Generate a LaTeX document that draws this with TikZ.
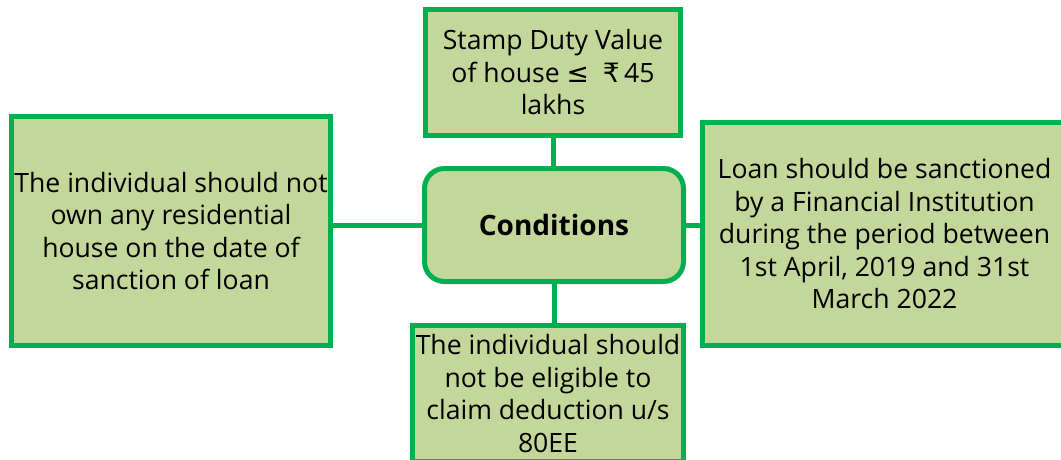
\documentclass[tikz,border=0pt]{standalone}
\usepackage{fontspec}
\setmainfont{Open Sans}
\newfontfamily\symfont{DejaVu Sans}
\definecolor{boxfill}{HTML}{C4D79B}
\definecolor{boxline}{HTML}{00B050}
\begin{document}
\begin{tikzpicture}[x=1pt,y=-1pt,
  cond/.style={draw=boxline,fill=boxfill,line width=5pt,rectangle,inner sep=0pt,
    align=center,font=\fontsize{26.6}{32.5}\selectfont,text=black},
  link/.style={draw=boxline,line width=5pt}]
\useasboundingbox (0,0) rectangle (1061,460);
\clip (0,0) rectangle (1061,460);
\node[cond,minimum width=255pt,minimum height=126pt] (top) at (553,72.5)
  {Stamp Duty Value\\of house {\symfont≤}\ \ {\symfont₹}\,45\\lakhs};
\node[cond,rounded corners=20pt,minimum width=259pt,minimum height=113pt,
  font=\fontsize{28}{32.5}\selectfont\bfseries] (center) at (554,225) {Conditions};
\node[cond,minimum width=319pt,minimum height=229pt] (left) at (171,231)
  {The individual should not\\own any residential\\house on the date of\\sanction of loan};
\node[cond,minimum width=364pt,minimum height=223pt] (right) at (884.5,234)
  {Loan should be sanctioned\\by a Financial Institution\\during the period between\\1st April, 2019 and 31st\\March 2022};
\node[cond,minimum width=271pt,minimum height=136pt] (bottom) at (548,393.5)
  {The individual should\\not be eligible to\\claim deduction u/s\\80EE};
\draw[link] (top.south) -- (top.south |- center.north);
\draw[link] (center.south) -- (center.south |- bottom.north);
\draw[link] (center.west) -- (center.west -| left.east);
\draw[link] (center.east) -- (center.east -| right.west);
\end{tikzpicture}
\end{document}
